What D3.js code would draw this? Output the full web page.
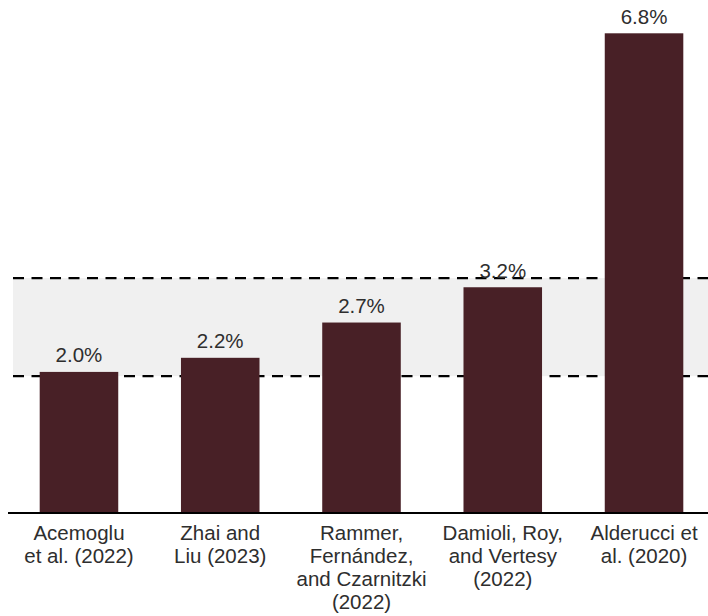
<!DOCTYPE html>
<html>
<head>
<meta charset="utf-8">
<script src="https://cdn.jsdelivr.net/npm/d3@7"></script>
<style>
  body { margin: 0; background: #fff; }
  text { font-family: "Liberation Sans", Arial, sans-serif; fill: #2e2e2e; }
</style>
</head>
<body>
<script>
var width = 708,
    height = 616;

// data
var studies = [
  ["Acemoglu", "et al. (2022)"],
  ["Zhai and", "Liu (2023)"],
  ["Rammer,", "Fernández,", "and Czarnitzki", "(2022)"],
  ["Damioli, Roy,", "and Vertesy", "(2022)"],
  ["Alderucci et", "al. (2020)"]
];
var effects = [2.0, 2.2, 2.7, 3.2, 6.8];
var bandRange = [1.94, 3.33];

var baseY = 513;

var x = d3.scaleBand()
    .domain(d3.range(studies.length))
    .range([39.7, 683.3])
    .paddingInner(0.444)
    .paddingOuter(0);

var y = d3.scaleLinear()
    .domain([0, 6.8])
    .range([baseY, 33.3]);

var svg = d3.select("body").append("svg")
    .attr("width", width)
    .attr("height", height);

// shaded range
svg.append("rect")
    .attr("x", 13)
    .attr("y", y(bandRange[1]))
    .attr("width", width - 13)
    .attr("height", y(bandRange[0]) - y(bandRange[1]))
    .attr("fill", "#f0f0f0");

svg.selectAll(".band-line").data(bandRange)
  .enter().append("line")
    .attr("class", "band-line")
    .attr("x1", 13)
    .attr("x2", width)
    .attr("y1", d => y(d))
    .attr("y2", d => y(d))
    .attr("stroke", "#000")
    .attr("stroke-width", 2.2)
    .attr("stroke-dasharray", "11,7.5");

// bars
svg.selectAll(".bar").data(effects)
  .enter().append("rect")
    .attr("class", "bar")
    .attr("x", (d, i) => x(i))
    .attr("y", d => y(d))
    .attr("width", x.bandwidth())
    .attr("height", d => baseY - y(d))
    .attr("fill", "#482026");

// value labels
svg.selectAll(".val").data(effects)
  .enter().append("text")
    .attr("class", "val")
    .attr("x", (d, i) => x(i) + x.bandwidth() / 2)
    .attr("y", d => y(d) - 9.5)
    .attr("text-anchor", "middle")
    .style("font-size", "20.5px")
    .text(d => d.toFixed(1) + "%");

// axis line
svg.append("line")
    .attr("x1", 8)
    .attr("x2", width)
    .attr("y1", baseY)
    .attr("y2", baseY)
    .attr("stroke", "#000")
    .attr("stroke-width", 2);

// category labels
var labels = svg.selectAll(".cat").data(studies)
  .enter().append("text")
    .attr("class", "cat")
    .attr("text-anchor", "middle")
    .attr("transform", (d, i) => "translate(" + (x(i) + x.bandwidth() / 2) + "," + (baseY + 27) + ")")
    .style("font-size", "20.5px");

labels.selectAll("tspan").data(d => d)
  .enter().append("tspan")
    .attr("x", 0)
    .attr("y", (d, i) => i * 23)
    .text(d => d);
</script>
</body>
</html>
